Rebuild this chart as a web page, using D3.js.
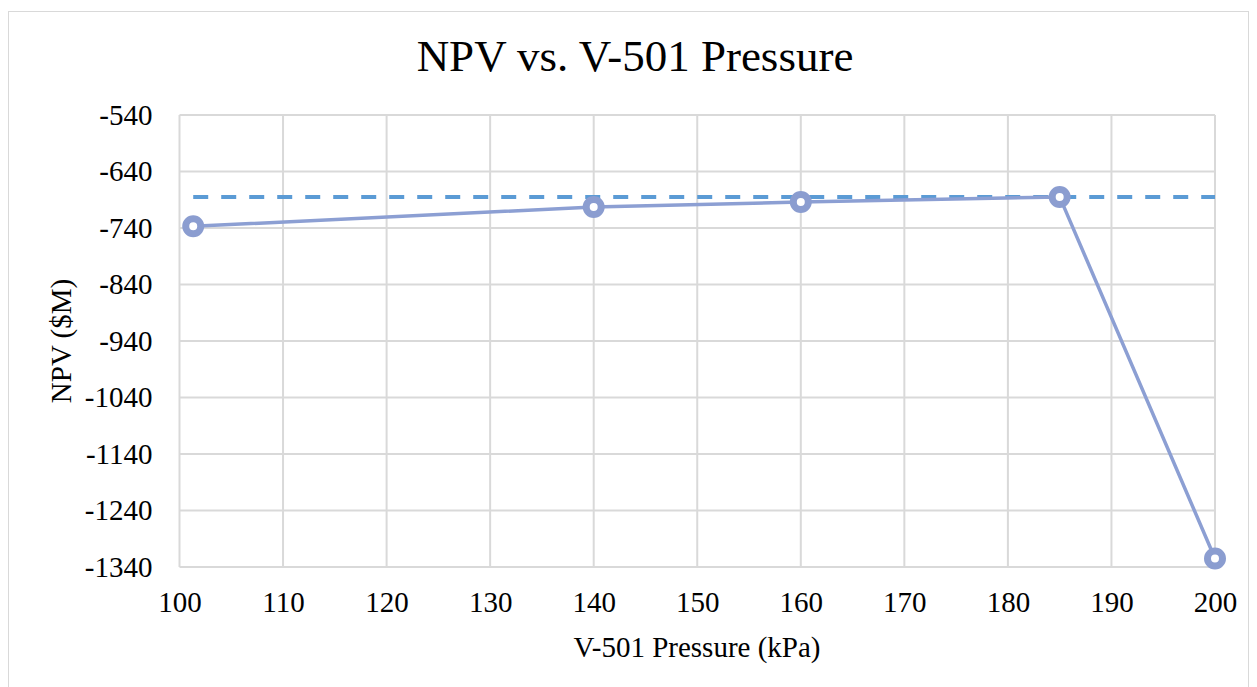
<!DOCTYPE html>
<html>
<head>
<meta charset="utf-8">
<script src="https://cdn.jsdelivr.net/npm/d3@7"></script>
<style>
  body { margin: 0; background: #fff; }
  text { font-family: "Liberation Serif", "Times New Roman", serif; fill: #000; }
</style>
</head>
<body>
<div id="chart"></div>
<script>
// data
var pressure = [101.325, 140, 160, 185, 200];
var npv = [-737, -703, -694, -685, -1325];
var bestLineX = [101.325, 200];
var bestLineY = [-685, -685];
var xTicks = [100, 110, 120, 130, 140, 150, 160, 170, 180, 190, 200];
var yTicks = [-540, -640, -740, -840, -940, -1040, -1140, -1240, -1340];

var width = 1257,
    height = 687;

var svg = d3.select("#chart")
    .append("svg")
    .attr("width", width)
    .attr("height", height);

// chart border
svg.append("rect")
    .attr("x", 8.5).attr("y", 11.5)
    .attr("width", 1240).attr("height", 690)
    .attr("fill", "none")
    .attr("stroke", "#d9d9d9");

var plotLeft = 179.5, plotRight = 1215, plotTop = 115, plotBottom = 567;

var x = d3.scaleLinear().domain([100, 200]).range([plotLeft, plotRight]);
var y = d3.scaleLinear().domain([-1340, -540]).range([plotBottom, plotTop]);

// grid lines
svg.append("g").selectAll("line")
    .data(xTicks)
    .enter().append("line")
    .attr("x1", function(d) { return x(d) }).attr("x2", function(d) { return x(d) })
    .attr("y1", plotTop).attr("y2", plotBottom)
    .attr("stroke", "#d9d9d9").attr("stroke-width", 2);

svg.append("g").selectAll("line")
    .data(yTicks)
    .enter().append("line")
    .attr("x1", plotLeft).attr("x2", plotRight)
    .attr("y1", function(d) { return y(d) }).attr("y2", function(d) { return y(d) })
    .attr("stroke", "#d9d9d9").attr("stroke-width", 2);

// axes (labels only)
var fmt = function(d) { return String(d) };

var xAxis = svg.append("g")
    .attr("transform", "translate(0," + plotBottom + ")")
    .call(d3.axisBottom(x).tickValues(xTicks).tickFormat(fmt).tickSize(0));
xAxis.select(".domain").remove();
xAxis.selectAll("text")
    .attr("y", 45).attr("dy", 0)
    .style("font-size", "29px");

var yAxis = svg.append("g")
    .attr("transform", "translate(" + plotLeft + ",0)")
    .call(d3.axisLeft(y).tickValues(yTicks).tickFormat(fmt).tickSize(0).tickPadding(27));
yAxis.select(".domain").remove();
yAxis.selectAll("text").style("font-size", "29px");

// dashed reference line
var pts = bestLineX.map(function(d, i) { return [d, bestLineY[i]] });
svg.append("path")
    .datum(pts)
    .attr("d", d3.line().x(function(d) { return x(d[0]) }).y(function(d) { return y(d[1]) }))
    .attr("fill", "none")
    .attr("stroke", "#5b9bd5")
    .attr("stroke-width", 4)
    .attr("stroke-dasharray", "15,13");

// NPV series
var data = pressure.map(function(d, i) { return { p: d, v: npv[i] } });

svg.append("path")
    .datum(data)
    .attr("d", d3.line().x(function(d) { return x(d.p) }).y(function(d) { return y(d.v) }))
    .attr("fill", "none")
    .attr("stroke", "#8c9fd3")
    .attr("stroke-width", 3.5);

svg.selectAll(".pt")
    .data(data)
    .enter().append("circle")
    .attr("class", "pt")
    .attr("cx", function(d) { return x(d.p) })
    .attr("cy", function(d) { return y(d.v) })
    .attr("r", 7.5)
    .attr("fill", "#fff")
    .attr("stroke", "#8b9dd0")
    .attr("stroke-width", 7);

// titles
svg.append("text")
    .attr("x", 635).attr("y", 71)
    .attr("text-anchor", "middle")
    .style("font-size", "45px")
    .text("NPV vs. V-501 Pressure");

svg.append("text")
    .attr("x", 697).attr("y", 657)
    .attr("text-anchor", "middle")
    .style("font-size", "29px")
    .text("V-501 Pressure (kPa)");

svg.append("text")
    .attr("transform", "translate(71,341) rotate(-90)")
    .attr("text-anchor", "middle")
    .style("font-size", "29px")
    .text("NPV ($M)");
</script>
</body>
</html>
